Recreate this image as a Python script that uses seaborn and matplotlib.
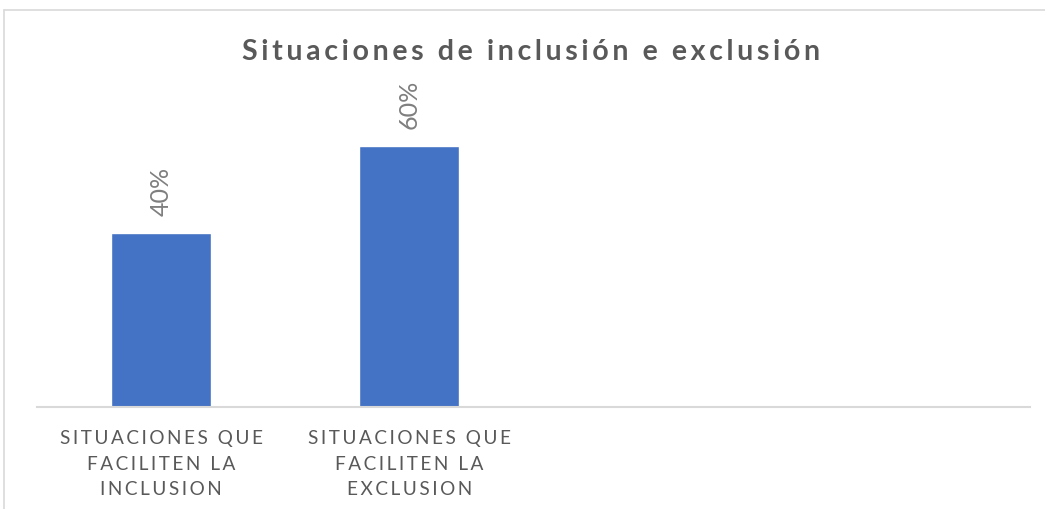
import pandas as pd
import seaborn as sns
import matplotlib.pyplot as plt
from matplotlib.lines import Line2D

# Data
categories = ["SITUACIONES QUE FACILITEN LA INCLUSION",
              "SITUACIONES QUE FACILITEN LA EXCLUSION"]
tick_labels = ["SITUACIONES QUE\nFACILITEN LA\nINCLUSION",
               "SITUACIONES QUE\nFACILITEN LA\nEXCLUSION"]
values = [0.40, 0.60]
title = "Situaciones de inclusión e exclusión"

df = pd.DataFrame({"cat": categories, "val": values})


def spaced(s, sep="\u200a"):
    # poor man's letter spacing
    return "\n".join(sep.join(line) for line in s.split("\n"))


sns.set_theme(style="white")
plt.rcParams['font.family'] = ['Lato', 'DejaVu Sans']

fig = plt.figure(figsize=(10.45, 5.1), dpi=100)
ax = fig.add_axes([37 / 1045, 102 / 510, 993 / 1045, 304 / 510])

sns.barplot(data=df, x="cat", y="val", color="#4472C4", saturation=1,
            width=0.403, ax=ax)

ax.set_xlim(-0.5, 3.5)
ax.set_ylim(0, 0.7)
ax.set_yticks([])
ax.set_xlabel("")
ax.set_ylabel("")
for s in ["top", "right", "left"]:
    ax.spines[s].set_visible(False)
ax.spines["bottom"].set_color("#d9d9d9")
ax.spines["bottom"].set_linewidth(1.5)

ax.set_xticks(range(len(categories)))
ax.set_xticklabels([spaced(t, "\u200a\u200a") for t in tick_labels], fontsize=13.7,
                   color="#595959", linespacing=1.6)
ax.tick_params(axis="x", length=0, pad=16)

# data labels
for i, v in enumerate(values):
    ax.annotate(f"{v:.0%}", (i, v), xytext=(0, 13), textcoords="offset points",
                rotation=90, ha="center", va="bottom", fontsize=18,
                color="#7f7f7f")

fig.text(531 / 1045, 1 - 52 / 510, spaced(title, "\u2009"), ha="center", va="center",
         fontsize=20.5, fontweight="bold", color="#595959")

# chart frame
fig.add_artist(Line2D([4 / 1045, 1], [1 - 11 / 510, 1 - 11 / 510],
                      transform=fig.transFigure, color="#d9d9d9", lw=1.2))
fig.add_artist(Line2D([4 / 1045, 4 / 1045], [0, 1 - 11 / 510],
                      transform=fig.transFigure, color="#d9d9d9", lw=1.2))

plt.savefig("out.png", dpi=100)
